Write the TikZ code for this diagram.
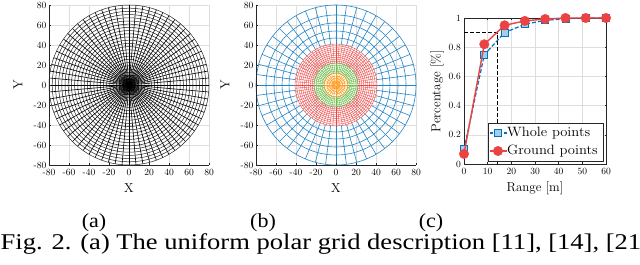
\documentclass[tikz,border=0pt]{standalone}
\usepackage{fontspec}
\newfontfamily\capfont{Liberation Serif}
\usepackage{tikz}
\usetikzlibrary{positioning}
\definecolor{mblue}{rgb}{0.0,0.447,0.741}
\definecolor{mred}{rgb}{0.93,0.26,0.26}
\definecolor{mgreen}{rgb}{0.42,0.74,0.30}
\definecolor{morange}{rgb}{1.0,0.62,0.15}
\tikzset{
  gridline/.style={draw=black!13, line width=0.4pt},
  axisline/.style={draw=black!85, line width=0.5pt},
  ticklabel/.style={font=\fontsize{9.5}{9.5}\selectfont, inner sep=1pt},
  axislabel/.style={font=\fontsize{13}{13}\selectfont, inner sep=0pt},
  polarring/.style={draw=black!85, line width=0.5pt},
  polarspoke/.style={draw=black, line width=0.6pt},
  blueline/.style={draw=mblue!85, line width=0.6pt},
  redline/.style={draw=mred, line width=0.35pt},
  greenline/.style={draw=mgreen, line width=0.4pt},
  orangeline/.style={draw=morange, line width=0.5pt},
  wholeline/.style={draw=mblue, line width=1.2pt, dash pattern=on 4pt off 2pt},
  groundline/.style={draw=mred, line width=1.4pt},
  sqmark/.style={draw=mblue, fill=mblue!35, line width=0.8pt, minimum size=7pt, inner sep=0pt},
  dotmark/.style={circle, draw=mred, fill=mred, minimum size=9.5pt, inner sep=0pt},
  legtext/.style={font=\fontsize{13.5}{13.5}\selectfont, inner sep=0pt, xscale=1.08},
  sublabel/.style={font=\capfont\fontsize{20}{20}\selectfont, inner sep=0pt, xscale=1.1},
  caption/.style={font=\capfont\fontsize{22.5}{22.5}\selectfont, inner sep=0pt, xscale=1.18}
}

\begin{document}
\begin{tikzpicture}[x=1pt, y=1pt]
\clip (0,0) rectangle (640,265);
\fill[white] (0,0) rectangle (640,265);

% (a) uniform polar grid
\begin{scope}[shift={(129,180)}]
  \foreach \v in {-80,-60,...,80} {
    \draw[gridline] (\v,-80) -- (\v,80);
    \draw[gridline] (-80,\v) -- (80,\v);
  }
  \foreach \k in {1,...,25} \draw[polarring] (0,0) circle ({\k*3.2});
  \foreach \a in {0,5,...,355} \draw[polarspoke] (0,0) -- (\a:80);
  \draw[axisline] (-80,80) -- (-80,-80) -- (80,-80);
  \foreach \v [count=\i] in {-80,-60,...,80} {
    \draw[axisline] (\v,-80) -- ++(0,1.5);
    \draw[axisline] (-80,\v) -- ++(1.5,0);
    \node[ticklabel, below=3pt] (ax\i) at (\v,-80) {\v};
    \node[ticklabel, left=1.5pt] (ay\i) at (-80,\v) {\v};
  }
  \node[axislabel] (xa) at (0,-103) {X};
  \node[axislabel, rotate=90] (ya) at (-111,0) {Y};
\end{scope}

% (b) multi-level polar grid
\begin{scope}[shift={(336,180)}]
  \foreach \v in {-80,-60,...,80} {
    \draw[gridline] (\v,-80) -- (\v,80);
    \draw[gridline] (-80,\v) -- (80,\v);
  }
  \foreach \r in {47,54,62,70,80} \draw[blueline] (0,0) circle (\r);
  \foreach \a in {0,7.5,...,352.5} \draw[blueline] (\a:41) -- (\a:80);
  \foreach \k in {0,...,10} \draw[redline] (0,0) circle ({22+\k*1.9});
  \foreach \a in {0,4.5,...,355.5} \draw[redline] (\a:22) -- (\a:41);
  \foreach \r in {12,14,...,22} \draw[greenline] (0,0) circle (\r);
  \foreach \a in {0,5.625,...,354.375} \draw[greenline] (\a:12) -- (\a:22);
  \foreach \r in {1.5,4,6.5,9,12} \draw[orangeline] (0,0) circle (\r);
  \foreach \a in {0,11.25,...,348.75} \draw[orangeline] (\a:1.5) -- (\a:12);
  \draw[axisline] (-80,80) -- (-80,-80) -- (80,-80);
  \foreach \v [count=\i] in {-80,-60,...,80} {
    \draw[axisline] (\v,-80) -- ++(0,1.5);
    \draw[axisline] (-80,\v) -- ++(1.5,0);
    \node[ticklabel, below=3pt] (bx\i) at (\v,-80) {\v};
    \node[ticklabel, left=1.5pt] (by\i) at (-80,\v) {\v};
  }
  \node[axislabel] (xb) at (0,-103) {X};
  \node[axislabel, rotate=90] (yb) at (-111,0) {Y};
\end{scope}

% (c) percentage over range
\begin{scope}[shift={(464,101)}, x=2.3667pt, y=146pt]
  \foreach \x in {10,20,...,50} \draw[gridline] (\x,0) -- (\x,1);
  \foreach \y in {0.2,0.4,0.6,0.8} \draw[gridline] (0,\y) -- (60,\y);
  \draw[axisline] (0,0) rectangle (60,1);
  \foreach \x [count=\i] in {0,10,...,60} {
    \draw[axisline] (\x,0) -- ++(0,0.012);
    \draw[axisline] (\x,1) -- ++(0,-0.012);
    \node[ticklabel, below=3pt] (cx\i) at (\x,0) {\x};
  }
  \foreach \y/\t [count=\i] in {0/0,0.2/0.2,0.4/0.4,0.6/0.6,0.8/0.8,1/1} {
    \draw[axisline] (0,\y) -- ++(0.6,0);
    \draw[axisline] (60,\y) -- ++(-0.6,0);
    \node[ticklabel, left=2pt] (cy\i) at (0,\y) {\t};
  }
  \node[axislabel] (xc) at (30,-0.164) {Range [m]};
  \node[axislabel, rotate=90] (yc) at (-11.4,0.5) {Percentage [\%]};
  % threshold
  \coordinate (th0) at (0,0.9);
  \coordinate (th1) at (14.1,0.9);
  \coordinate (th2) at (14.1,0);
  \draw[line width=0.9pt, dash pattern=on 3.5pt off 2.5pt] (th0) -- (th1) -- (th2);
  % whole points
  \foreach \y [count=\i from 0] in {0.10,0.748,0.90,0.957,0.984,0.995,1,1}
    \coordinate (w\i) at ({\i*60/7},\y);
  \draw[wholeline] (w0) -- (w1) -- (w2) -- (w3) -- (w4) -- (w5) -- (w6) -- (w7);
  \foreach \i in {0,...,7} \node[sqmark] (mw\i) at (w\i) {};
  % ground points
  \foreach \y [count=\i from 0] in {0.069,0.82,0.95,0.98,0.993,1,1,1}
    \coordinate (g\i) at ({\i*60/7},\y);
  \draw[groundline] (g0) -- (g1) -- (g2) -- (g3) -- (g4) -- (g5) -- (g6) -- (g7);
  \foreach \i in {0,...,7} \node[dotmark] (mg\i) at (g\i) {};
\end{scope}

% legend
\draw[axisline, fill=white] (488,104) rectangle (603,142);
\node[legtext, anchor=base west] (lw) at (507,128) {Whole points};
\node[legtext, anchor=base west] (lg) at (507,110) {Ground points};
\coordinate (lw0) at (490,132);
\coordinate (lg0) at (490,114);
\draw[wholeline, dash pattern=on 3pt off 1.5pt] (lw0) -- (lw.west |- lw0);
\node[sqmark] (lwm) at (498,132) {};
\draw[groundline] (lg0) -- (lg.west |- lg0);
\node[dotmark] (lgm) at (498,114) {};

% sub-labels and caption
\node[sublabel, anchor=base] (la) at (94,37) {(a)};
\node[sublabel, anchor=base] (lb) at (263,37) {(b)};
\node[sublabel, anchor=base] (lc) at (431,37) {(c)};
\node[caption, anchor=base west] (cap) at (0.5,15) {Fig. 2. (a) The uniform polar grid description [11], [14], [21};
\end{tikzpicture}
\end{document}
